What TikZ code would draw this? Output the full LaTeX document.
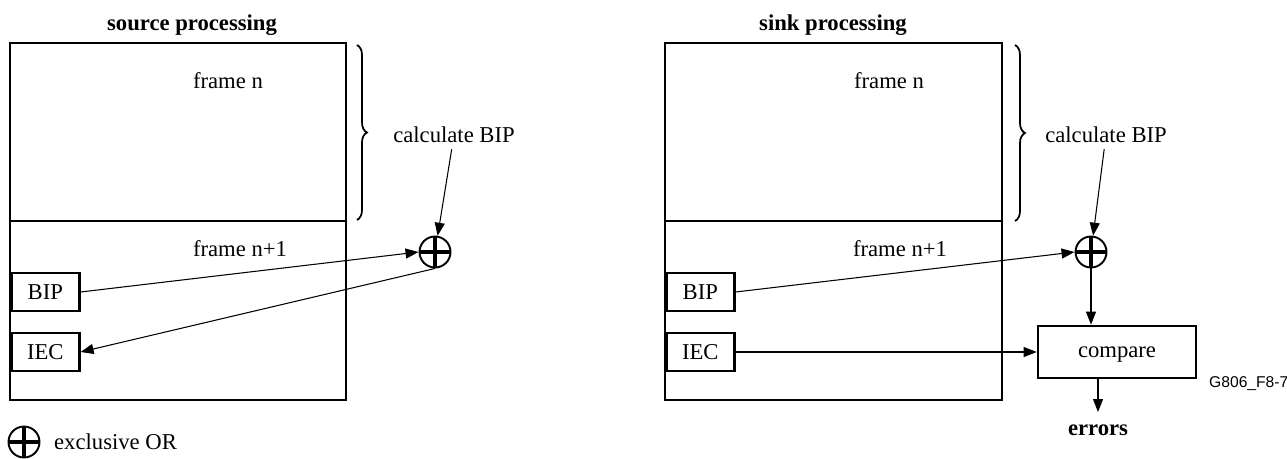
\documentclass[tikz,border=0pt]{standalone}
\usepackage{fontspec}
\setmainfont{Liberation Serif}
\newfontfamily\codefont{Liberation Sans}
\usetikzlibrary{arrows.meta,decorations.pathreplacing,positioning}

\begin{document}
\begin{tikzpicture}[x=0.02cm, y=-0.02cm,
    every node/.style={font=\fontsize{12.9}{15}\selectfont},
    frame/.style={line width=1.5pt},
    field/.style={draw, line width=1.5pt, minimum width=1.36cm, minimum height=0.76cm, inner sep=0pt, anchor=west},
    cmpbox/.style={draw, line width=1.5pt, minimum width=3.16cm, minimum height=1.04cm, inner sep=0pt, text depth=0pt},
    xor/.style={circle, draw, line width=1.1pt, minimum size=0.62cm, inner sep=0pt,
        path picture={\draw[line width=1.8pt] (path picture bounding box.north) -- (path picture bounding box.south)
                      (path picture bounding box.west) -- (path picture bounding box.east);}},
    heading/.style={font=\fontsize{12.9}{15}\selectfont\bfseries},
    arr/.style={-{Triangle[length=0.26cm, width=0.2cm]}, line width=0.6pt},
    curly/.style={decorate, decoration={brace, amplitude=0.2cm}, line width=1pt}]
    \useasboundingbox (0,0) rectangle (1287,459);

    % source processing
    \node[heading] (srcTitle) at (192,25) {source processing};
    \draw[frame] (10,43) rectangle (346,400);
    \draw[frame] (10,221) -- (346,221);
    \node (srcN)  at (228,81)  {frame n};
    \node (srcN1) at (240,249) {frame n+1};
    \node[field] (srcBIP) at (10,292) {BIP};
    \node[field] (srcIEC) at (10,352) {IEC};
    \draw[curly] (357,45) -- (357,220);
    \node (srcCalc) at (454,135) {calculate BIP};
    \node[xor] (srcX) at (435,252) {};

    \draw[arr] (srcCalc) -- (srcX);
    \draw[arr] (srcBIP.east) -- (srcX.west);
    \draw[arr] (srcX.south) -- (srcIEC.east);

    % sink processing
    \node[heading] (sinkTitle) at (833,25) {sink processing};
    \draw[frame] (665,43) rectangle (1002,400);
    \draw[frame] (665,221) -- (1002,221);
    \node (sinkN)  at (889,81)  {frame n};
    \node (sinkN1) at (900,249) {frame n+1};
    \node[field] (sinkBIP) at (665,292) {BIP};
    \node[field] (sinkIEC) at (665,352) {IEC};
    \draw[curly] (1015,45) -- (1015,221);
    \node (sinkCalc) at (1106,135) {calculate BIP};
    \node[xor] (sinkX) at (1091,252) {};
    \node[cmpbox] (sinkCmp) at (1117,352) {compare};
    \node[heading, anchor=north, inner ysep=0.24cm] (sinkErr) at (1098,412) {errors};

    \draw[arr] (sinkCalc) -- (sinkX);
    \draw[arr] (sinkBIP.east) -- (sinkX.west);
    \draw[arr] (sinkX.south) -- (sinkX.south |- sinkCmp.north);
    \draw[arr] (sinkIEC.east) -- (sinkCmp.west);
    \draw[arr] (sinkCmp.south -| sinkErr.north) -- (sinkErr.north);

    \node[anchor=west, font=\fontsize{8.9}{10}\selectfont\codefont] (figId) at (1203,384) {G806\_F8-7};

    % legend
    \node[xor] (legX) at (24,442) {};
    \node[right=0.15cm of legX] (legText) {exclusive OR};
\end{tikzpicture}
\end{document}
